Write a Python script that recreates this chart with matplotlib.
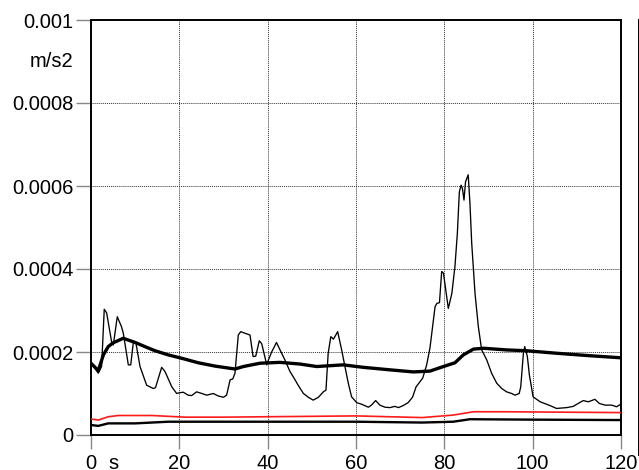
import matplotlib
matplotlib.use("Agg")
import matplotlib.pyplot as plt
from matplotlib.lines import Line2D

plt.rcParams['font.family'] = ['Liberation Sans', 'DejaVu Sans']

# Instantaneous acceleration (thin trace)
t_inst = [0, 1.65, 2.4, 3.0, 3.55, 4.7, 5.05, 5.95, 6.9, 7.3, 8.45, 9.0, 9.6, 10.2,
          11.1, 12.6, 14.1, 14.6, 16.0, 16.75, 18.3, 19.4, 20.1, 20.9, 22.0, 22.8,
          23.9, 25.1, 26.2, 27.7, 28.8, 30.0, 30.7, 31.5, 32.1, 32.6, 33.35, 33.9,
          34.9, 36.0, 36.7, 37.3, 38.1, 38.65, 39.8, 40.15, 40.9, 42.0, 42.8, 43.9,
          45.05, 46.2, 46.9, 48.1, 49.2, 50.3, 51.5, 52.6, 53.2, 53.7, 54.3, 54.9,
          55.85, 56.75, 57.5, 58.25, 59.0, 60.15, 61.3, 62.8, 63.5, 64.45, 65.4,
          66.55, 67.7, 68.8, 69.6, 70.7, 71.8, 72.8, 73.6, 74.1, 75.1, 76.0, 76.75,
          77.9, 78.3, 78.9, 79.4, 79.8, 80.9, 81.7, 82.4, 82.95, 83.4, 83.8, 84.1,
          84.45, 84.8, 85.4, 85.8, 86.2, 86.95, 87.7, 88.45, 89.6, 90.7, 91.85, 93.0,
          94.1, 95.25, 96.0, 96.95, 97.3, 97.9, 98.2, 98.8, 99.25, 100.1, 101.7,
          103.9, 105.4, 107.7, 109.2, 110.3, 111.45, 112.6, 114.1, 115.1, 116.4,
          117.9, 119.0, 119.6, 120.0]
a_inst = [1.74, 1.49, 1.65, 3.03, 2.94, 2.22, 2.17, 2.85, 2.61, 2.46, 1.69, 1.69, 2.25,
          2.20, 1.65, 1.20, 1.12, 1.14, 1.63, 1.53, 1.16, 1.00, 1.02, 1.03, 0.96,
          0.95, 1.04, 1.00, 0.96, 1.00, 0.94, 0.91, 0.96, 1.33, 1.35, 1.49, 2.41,
          2.49, 2.45, 2.41, 1.89, 1.90, 2.27, 2.20, 1.69, 1.80, 2.00, 2.23, 2.05,
          1.81, 1.53, 1.33, 1.20, 1.00, 0.91, 0.84, 0.91, 1.04, 1.08, 1.97, 2.37,
          2.31, 2.49, 2.05, 1.65, 1.25, 0.92, 0.78, 0.74, 0.67, 0.72, 0.83, 0.72,
          0.67, 0.66, 0.69, 0.66, 0.71, 0.78, 0.91, 1.16, 1.23, 1.37, 1.69, 2.10,
          3.09, 3.17, 3.19, 3.94, 3.90, 3.05, 3.41, 4.06, 4.86, 5.86, 6.02, 5.94,
          5.66, 6.10, 6.27, 5.58, 4.62, 3.41, 2.61, 2.05, 1.81, 1.49, 1.25, 1.12,
          1.04, 1.00, 0.96, 1.00, 1.16, 1.97, 2.13, 1.89, 1.45, 0.92, 0.80,
          0.71, 0.64, 0.66, 0.69, 0.76, 0.83, 0.80, 0.86, 0.76, 0.72, 0.72,
          0.68, 0.72, 0.74]

# Running average (thick trace)
t_avg = [0, 1.65, 2.8, 3.9, 5.0, 7.3, 10.0, 12.2, 14.5, 17.5, 20.5, 24.3, 28.1,
         32.6, 34.5, 38.3, 42.8, 47.3, 51.1, 54.1, 57.1, 61.7, 67.7, 73.0, 76.75,
         79.8, 82.4, 84.3, 86.6, 88.9, 94.1, 98.6, 105.4, 113.0, 120.0]
a_avg = [1.73, 1.55, 1.93, 2.13, 2.22, 2.33, 2.23, 2.13, 2.03, 1.93, 1.85, 1.74, 1.66,
         1.59, 1.65, 1.73, 1.75, 1.71, 1.65, 1.67, 1.69, 1.63, 1.57, 1.52, 1.54,
         1.65, 1.74, 1.93, 2.07, 2.09, 2.05, 2.03, 1.97, 1.91, 1.86]

# Red reference trace
t_red = [0, 1.65, 3.9, 6.2, 13.7, 21.3, 30.0, 40.0, 60.0, 75.0, 82.0, 86.6, 94.0, 120.0]
a_red = [0.385, 0.36, 0.44, 0.47, 0.47, 0.43, 0.43, 0.44, 0.46, 0.42, 0.48, 0.56, 0.56, 0.54]

# Lower black reference trace
t_low = [0, 1.65, 3.9, 10.0, 17.5, 30.0, 60.0, 75.0, 82.0, 85.8, 100.0, 120.0]
a_low = [0.24, 0.22, 0.28, 0.28, 0.32, 0.32, 0.32, 0.30, 0.32, 0.38, 0.37, 0.36]

x_ticks = [0, 20, 40, 60, 80, 100, 120]
x_labels = ['0', '20', '40', '60', '80', '100', '120']
y_ticks = [0, 0.0002, 0.0004, 0.0006, 0.0008, 0.001]
y_labels = ['0', '0.0002', '0.0004', '0.0006', '0.0008', '0.001']

scale = 1e-4
fs = 14.5

fig = plt.figure(figsize=(6.39, 4.70), dpi=100)
ax = fig.add_axes([91 / 639, 1 - 435 / 470, 530 / 639, 415 / 470])

line_kw = dict(solid_joinstyle='round', solid_capstyle='butt')
ax.plot(t_low, [v * scale for v in a_low], color='black', lw=1.7, zorder=3, **line_kw)
ax.plot(t_red, [v * scale for v in a_red], color='#ff1a1a', lw=1.2, zorder=3, **line_kw)
ax.plot(t_inst, [v * scale for v in a_inst], color='black', lw=0.95, zorder=4, **line_kw)
ax.plot(t_avg, [v * scale for v in a_avg], color='black', lw=2.4, zorder=5, **line_kw)

ax.set_xlim(0, 120)
ax.set_ylim(0, 0.001)
ax.set_xticks(x_ticks)
ax.set_xticklabels(x_labels)
ax.set_yticks(y_ticks)
ax.set_yticklabels(y_labels)

ax.grid(True, color='#333333', lw=0.7, linestyle=(0, (1, 1)))
ax.tick_params(axis='both', labelsize=fs, colors='#888888', labelcolor='black',
               width=1.0)
ax.tick_params(axis='y', length=11, pad=1.5)
ax.tick_params(axis='x', length=10, pad=4)
for s in ax.spines.values():
    s.set_linewidth(1.4)
    s.set_color('black')

ax.text(-0.033, 0.9, 'm/s2', transform=ax.transAxes, ha='right', va='center',
        fontsize=fs)
ax.text(5, 0, 's', ha='center', va='top', fontsize=fs,
        transform=ax.get_xaxis_transform(), clip_on=False)
# align the unit label with the tick labels
fig.canvas.draw()
lbl0 = ax.get_xticklabels()[0]
ax.texts[-1].set_y(lbl0.get_position()[1])
ax.texts[-1].set_transform(lbl0.get_transform())

fig.add_artist(Line2D([638.5 / 639, 638.5 / 639], [1 - 20 / 470, 1 - 455 / 470],
                      transform=fig.transFigure, color='black', lw=1.4))

fig.savefig('out.png', dpi=100)
